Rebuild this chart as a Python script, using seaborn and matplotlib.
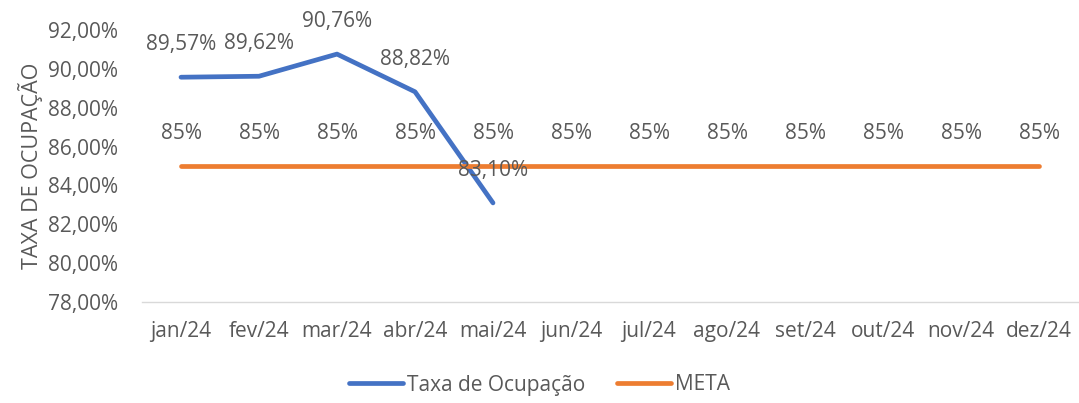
import matplotlib
matplotlib.use("Agg")
import matplotlib.pyplot as plt
import seaborn as sns
import pandas as pd
import numpy as np

months = ["jan/24", "fev/24", "mar/24", "abr/24", "mai/24", "jun/24",
          "jul/24", "ago/24", "set/24", "out/24", "nov/24", "dez/24"]
taxa = [89.57, 89.62, 90.76, 88.82, 83.10]
meta = [85] * 12
yticks = [78, 80, 82, 84, 86, 88, 90, 92]

sns.set_theme(style="white")
plt.rcParams["font.family"] = ["Open Sans", "DejaVu Sans"]

text_color = "#595959"
blue = "#4472C4"
orange = "#ED7D31"
fs = 15

df = pd.concat([
    pd.DataFrame({"x": np.arange(len(taxa)), "valor": taxa, "serie": "Taxa de Ocupação"}),
    pd.DataFrame({"x": np.arange(len(meta)), "valor": meta, "serie": "META"}),
])

fig = plt.figure(figsize=(10.79, 4.03), dpi=100)
ax = fig.add_axes([142 / 1079, 1 - 302 / 403, (1078 - 142) / 1079, (302 - 30) / 403])

sns.lineplot(data=df, x="x", y="valor", hue="serie",
             palette={"Taxa de Ocupação": blue, "META": orange},
             linewidth=3.4, ax=ax, legend=False)
for line in ax.lines:
    line.set_solid_capstyle("round")

ax.set_xlim(-0.5, 11.5)
ax.set_ylim(78, 92)
ax.set_yticks(yticks)
ax.set_yticklabels([f"{v:.2f}%".replace(".", ",") for v in yticks],
                   color=text_color, fontsize=fs)
ax.set_xticks(np.arange(len(months)))
ax.set_xticklabels(months, color=text_color, fontsize=fs)
ax.set_xticks(np.arange(-0.5, 12, 1), minor=True)
ax.tick_params(axis="x", which="major", length=0, pad=14)
ax.tick_params(axis="x", which="minor", length=7, width=1, color="#D9D9D9", direction="out")
ax.tick_params(axis="y", length=0, pad=17)
ax.set_xlabel("")
ax.set_ylabel("TAXA DE OCUPAÇÃO", color=text_color, fontsize=15.5, labelpad=4)

for s in ["top", "right", "left"]:
    ax.spines[s].set_visible(False)
ax.spines["bottom"].set_color("#D9D9D9")
ax.spines["bottom"].set_linewidth(1)

for i, v in enumerate(taxa):
    ax.annotate(f"{v:.2f}%".replace(".", ","), (i, v), xytext=(0, 16),
                textcoords="offset points", ha="center", va="bottom",
                color=text_color, fontsize=fs, annotation_clip=False)
for i, v in enumerate(meta):
    ax.annotate(f"{v}%", (i, v), xytext=(0, 16),
                textcoords="offset points", ha="center", va="bottom",
                color=text_color, fontsize=fs, annotation_clip=False)

handles = [plt.Line2D([], [], color=blue, lw=3.4, solid_capstyle="round"),
           plt.Line2D([], [], color=orange, lw=3.4, solid_capstyle="round")]
leg = fig.legend(handles, ["Taxa de Ocupação", "META"], loc="center",
                 bbox_to_anchor=(0.5, 1 - 385 / 403), ncol=2, frameon=False,
                 fontsize=fs, handlelength=2.6, handletextpad=0.2, columnspacing=1.5)
for t in leg.get_texts():
    t.set_color(text_color)

fig.savefig("out.png", dpi=100)
